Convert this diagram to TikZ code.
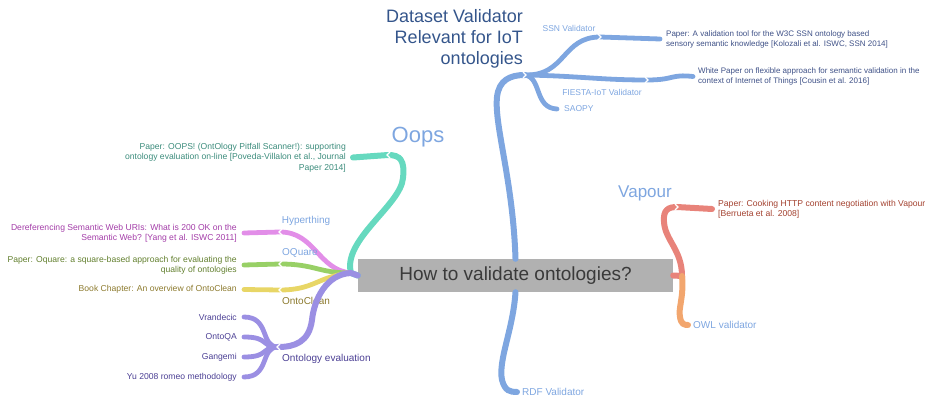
\documentclass[tikz,border=0pt]{standalone}
\usepackage{fontspec}
\setmainfont{Liberation Sans}
\usetikzlibrary{positioning}
\definecolor{boxgray}{HTML}{B1B1B1}
\definecolor{boxtext}{HTML}{3A3A3A}
\definecolor{bluebr}{HTML}{7EA6E0}
\definecolor{titleblue}{HTML}{34558B}
\definecolor{paperblue}{HTML}{3F5187}
\definecolor{tealbr}{HTML}{66D9BF}
\definecolor{tealtxt}{HTML}{3C8C7C}
\definecolor{pinkbr}{HTML}{E28EE8}
\definecolor{pinktxt}{HTML}{A33DA8}
\definecolor{greenbr}{HTML}{98D066}
\definecolor{greentxt}{HTML}{63802F}
\definecolor{yellowbr}{HTML}{E8D666}
\definecolor{yellowtxt}{HTML}{8C7A2E}
\definecolor{purplebr}{HTML}{9B8FE3}
\definecolor{purpletxt}{HTML}{4B3F94}
\definecolor{redbr}{HTML}{E8837A}
\definecolor{redtxt}{HTML}{A3412F}
\definecolor{orangebr}{HTML}{F2A66E}
\tikzset{main node/.style={rectangle,fill=boxgray,text=boxtext,minimum width=315pt,minimum height=33pt,inner sep=0pt,font=\fontsize{19}{22}\selectfont},
  topic node/.style={text=bluebr,inner sep=1pt,font=\fontsize{10}{12}\selectfont},
  small node/.style={text=bluebr,inner sep=1pt,font=\fontsize{8.5}{10}\selectfont},
  paper node/.style={inner sep=1pt,font=\fontsize{8.6}{10.3}\selectfont},
  iot paper/.style={paper node,align=left,anchor=west,text=paperblue,font=\fontsize{8}{10}\selectfont},
  branch/.style={line width=6pt,line cap=round},
  twig/.style={line width=4.8pt,line cap=round},
  notch/.style={draw=white,line width=1.1pt}}

\begin{document}
\begin{tikzpicture}[x=1pt,y=-1pt]
\useasboundingbox (0,0) rectangle (929,403);

% centre
\node[main node] (main) at (515.5,275.5) {How to validate ontologies?};

% dataset validators (top)
\node[align=right,anchor=north east,text=titleblue,inner sep=0pt,font=\fontsize{18}{21}\selectfont] (dsv) at (523,9) {Dataset Validator\\Relevant for IoT\\ontologies};
\node[small node] (ssn) at (569,28) {SSN Validator};
\node[iot paper] (ssnpaper) at (665,39) {Paper: A validation tool for the W3C SSN ontology based\\sensory semantic knowledge [Kolozali et al. ISWC, SSN 2014]};
\node[small node] (fiesta) at (602,92) {FIESTA-IoT Validator};
\node[iot paper] (wpaper) at (697,76.5) {White Paper on flexible approach for semantic validation in the\\context of Internet of Things [Cousin et al. 2016]};
\node[small node,anchor=west] (saopy) at (563,109) {SAOPY};
\node[topic node,anchor=west] (rdf) at (521,392) {RDF Validator};

\coordinate (dsvj) at (525,75);
\coordinate (ssnj) at (600,37);
\coordinate (fiestaj) at (647,80);

\draw[branch,bluebr] (main.north) .. controls (513,180) and (494,125) .. (497,97) .. controls (499,80) and (510,75) .. (dsvj);
\draw[twig,bluebr] (dsvj) .. controls (566,76) and (562,37) .. (ssnj) -- ([xshift=-5pt]ssnpaper.west);
\draw[twig,bluebr] (dsvj) .. controls (580,76) and (600,80) .. (fiestaj) .. controls (675,80) and (670,74) .. ([xshift=-4pt]wpaper.west);
\draw[twig,bluebr] (dsvj) .. controls (542,78) and (534,108) .. ([xshift=-6pt]saopy.west);
\draw[branch,bluebr] (main.south) .. controls (513,330) and (498,360) .. (502,380) .. controls (505,391) and (510,392) .. ([xshift=-4pt]rdf.west);

% left side
\coordinate (lj) at (351,273);
\node[text=bluebr,inner sep=0pt,font=\fontsize{22}{24}\selectfont] (oops) at (418,137) {Oops};
\node[paper node,align=right,anchor=east,text=tealtxt] (oopspaper) at (347,157.5) {Paper: OOPS! (OntOlogy Pitfall Scanner!): supporting\\ontology evaluation on-line [Poveda-Villalon et al., Journal\\Paper 2014]};
\coordinate (oopsj) at (388,155);
\draw[branch,tealbr] (main.west) -- (lj) .. controls (342,240) and (401,205) .. (403,178) .. controls (405,160) and (400,155) .. (oopsj) -- ([xshift=6pt]oopspaper.east);

\node[topic node] (hyper) at (306,221) {Hyperthing};
\node[paper node,align=right,anchor=east,text=pinktxt] (hyperpaper) at (238,233) {Dereferencing Semantic Web URIs: What is 200 OK on the\\Semantic Web? [Yang et al. ISWC 2011]};
\coordinate (hyperj) at (280,232);
\draw[twig,pinkbr] (lj) .. controls (318,270) and (315,232) .. (hyperj) -- ([xshift=6pt]hyperpaper.east);

\node[topic node] (oquare) at (300,253) {OQuare};
\node[paper node,align=right,anchor=east,text=greentxt] (oquarepaper) at (238,265) {Paper: Oquare: a square-based approach for evaluating the\\quality of ontologies};
\coordinate (oquarej) at (280,264);
\draw[twig,greenbr] (lj) .. controls (318,273) and (315,264) .. (oquarej) -- ([xshift=6pt]oquarepaper.east);

\node[topic node,text=yellowtxt] (oclean) at (306,301) {OntoClean};
\node[paper node,anchor=east,text=yellowtxt] (ocleanpaper) at (238,289.5) {Book Chapter: An overview of OntoClean};
\coordinate (ocleanj) at (280,290);
\draw[twig,yellowbr] (lj) .. controls (318,276) and (315,290) .. (ocleanj) -- ([xshift=6pt]ocleanpaper.east);

\node[topic node,anchor=west,text=purpletxt] (oe) at (281,359) {Ontology evaluation};
\coordinate (oej) at (278,347);
\draw[branch,purplebr] (main.west) -- (lj) .. controls (326,274) and (314,300) .. (312,320) .. controls (309,342) and (295,347) .. (oej);
\node[paper node,anchor=east,text=purpletxt] (vrand) at (238,317) {Vrandecic};
\node[paper node,below=20pt of vrand.east,anchor=east,text=purpletxt] (ontoqa) {OntoQA};
\node[paper node,below=20pt of ontoqa.east,anchor=east,text=purpletxt] (gangemi) {Gangemi};
\node[paper node,below=20pt of gangemi.east,anchor=east,text=purpletxt] (yu) {Yu 2008 romeo methodology};
\foreach \leaf in {vrand,ontoqa,gangemi,yu}
  \draw[twig,purplebr] (oej) .. controls (260,347) and (270,0 |- \leaf.east) .. ([xshift=6pt]\leaf.east);

% right side
\coordinate (rj) at (682,276);
\node[text=bluebr,inner sep=0pt,font=\fontsize{17}{20}\selectfont] (vapour) at (645,193) {Vapour};
\node[paper node,align=left,anchor=west,text=redtxt] (vapourpaper) at (717,209) {Paper: Cooking HTTP content negotiation with Vapour\\{[Berrueta et al. 2008]}};
\coordinate (vapourj) at (677,207);
\draw[branch,redbr] (main.east) -- (rj) .. controls (682,250) and (665,240) .. (664,222) .. controls (663,210) and (668,207) .. (vapourj) -- ([xshift=-5pt]vapourpaper.west);
\node[topic node,anchor=west] (owl) at (692,325) {OWL validator};
\draw[branch,orangebr] (rj) .. controls (684,298) and (678,308) .. (680,317) .. controls (681,324) and (684,325) .. ([xshift=-4pt]owl.west);

% notches where a stub leaves a bend
\foreach \j/\d in {dsvj/1,ssnj/1,fiestaj/1,vapourj/1,oopsj/-1,hyperj/-1,oquarej/-1,ocleanj/-1,oej/-1}
  \draw[notch] ([xshift=-\d*2pt,yshift=3pt]\j) -- ([xshift=\d*1pt]\j) -- ([xshift=-\d*2pt,yshift=-3pt]\j);
\end{tikzpicture}
\end{document}
